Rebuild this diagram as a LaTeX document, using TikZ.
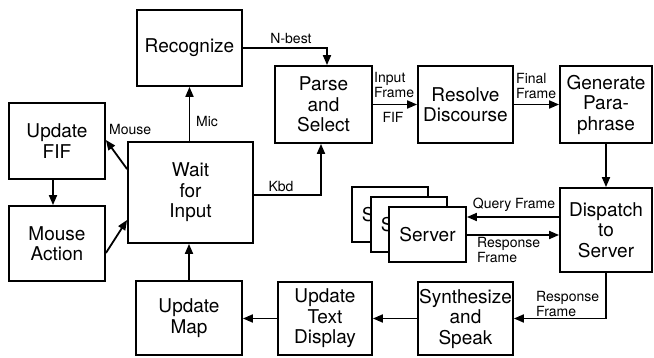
\documentclass[tikz,border=0pt]{standalone}
\usepackage{fontspec}
\setmainfont{TeX Gyre Heros}
\usetikzlibrary{arrows.meta,calc}
\begin{document}
\begin{tikzpicture}[x=1pt,y=-1pt,
 box/.style={draw,line width=1.8pt,fill=white,align=center,inner sep=0pt,font=\fontsize{19}{20.5}\selectfont},
 lbl/.style={font=\fontsize{14}{15}\selectfont,inner sep=0pt,align=left},
 arr/.style={line width=1.8pt,-{Triangle[length=10pt,width=8pt]}}]
\useasboundingbox (0,0) rectangle (654,358);
% boxes
\node[box,minimum width=105pt,minimum height=76pt] (rec) at (189.5,48) {Recognize};
\node[box,minimum width=96pt,minimum height=76pt] (fif) at (57,141) {Update\\FIF};
\node[box,minimum width=125pt,minimum height=101pt] (wait) at (190.5,192.5) {Wait\\for\\Input};
\node[box,minimum width=96pt,minimum height=75pt] (mouse) at (57,243.5) {Mouse\\Action};
\node[box,minimum width=97pt,minimum height=77pt] (parse) at (323.5,104.5) {Parse\\and\\Select};
\node[box,minimum width=95pt,minimum height=77pt] (resolve) at (465.5,104.5) {Resolve\\Discourse};
\node[box,minimum width=92pt,minimum height=77pt] (gen) at (606,104.5) {Generate\\Para-\\phrase};
\node[box,minimum width=92pt,minimum height=84pt] (disp) at (606,230) {Dispatch\\to\\Server};
\node[box,minimum width=76pt,minimum height=55pt] (srvc) at (390,214.5) {Server};
\node[box,minimum width=76pt,minimum height=55pt] (srvb) at (409,224.5) {Server};
\node[box,minimum width=77pt,minimum height=55pt] (srva) at (427.5,234.5) {Server};
\node[box,minimum width=95pt,minimum height=73pt] (synth) at (465.5,318.5) {Synthesize\\and\\Speak};
\node[box,minimum width=94pt,minimum height=73pt] (text) at (325,318.5) {Update\\Text\\Display};
\node[box,minimum width=106pt,minimum height=74pt] (map) at (189,318) {Update\\Map};
% connectors
\draw[arr] (rec.south |- wait.north) -- (rec.south);
\draw[arr] (rec.east) -| ($(parse.north)+(3.5,0)$);
\draw[arr] ($(wait.east)+(0,2.5)$) -| ($(parse.south)+(-2.5,0)$);
\draw[arr] (parse.east) -- (resolve.west);
\draw[arr] (resolve.east) -- (gen.west);
\draw[arr] (gen.south) -- (gen.south |- disp.north);
\coordinate (q) at ($(disp.west)+(0,-13)$);
\draw[arr] (q) -- (q -| srva.east);
\coordinate (r) at ($(srva.east)+(0,0.5)$);
\draw[arr] (r) -- (r -| disp.west);
\draw[arr] (disp.south) |- (synth.east);
\draw[arr] (synth.west) -- (text.east);
\draw[arr] (text.west) -- (map.east |- text.west);
\draw[arr] (map.north) -- (map.north |- wait.south);
\draw[arr] ($(wait.north west)+(0,28)$) -- ($(fif.east)+(0,-1)$);
\draw[arr] ($(fif.south)+(-4,0)$) -- ($(mouse.north)+(-4,0)$);
\draw[arr] ($(mouse.east)+(0,9.5)$) -- ($(wait.west)+(0,27.5)$);
% labels
\node[lbl] (lnbest) at (291,39) {N-best};
\node[lbl,anchor=west] (lmic) at (196,122) {Mic};
\node[lbl,anchor=west] (lmouse) at (109,130) {Mouse};
\node[lbl] (lkbd) at (281,187) {Kbd};
\node[lbl,anchor=west] (linput) at (374,85.5) {Input\\Frame};
\node[lbl] (lfif) at (393,117) {FIF};
\node[lbl,anchor=west] (lfinal) at (516,86.5) {Final\\Frame};
\node[lbl] (lquery) at (514,205) {Query Frame};
\node[lbl,anchor=west] (lresp1) at (477,250.5) {Response\\Frame};
\node[lbl,anchor=west] (lresp2) at (536,304) {Response\\Frame};
\end{tikzpicture}
\end{document}
